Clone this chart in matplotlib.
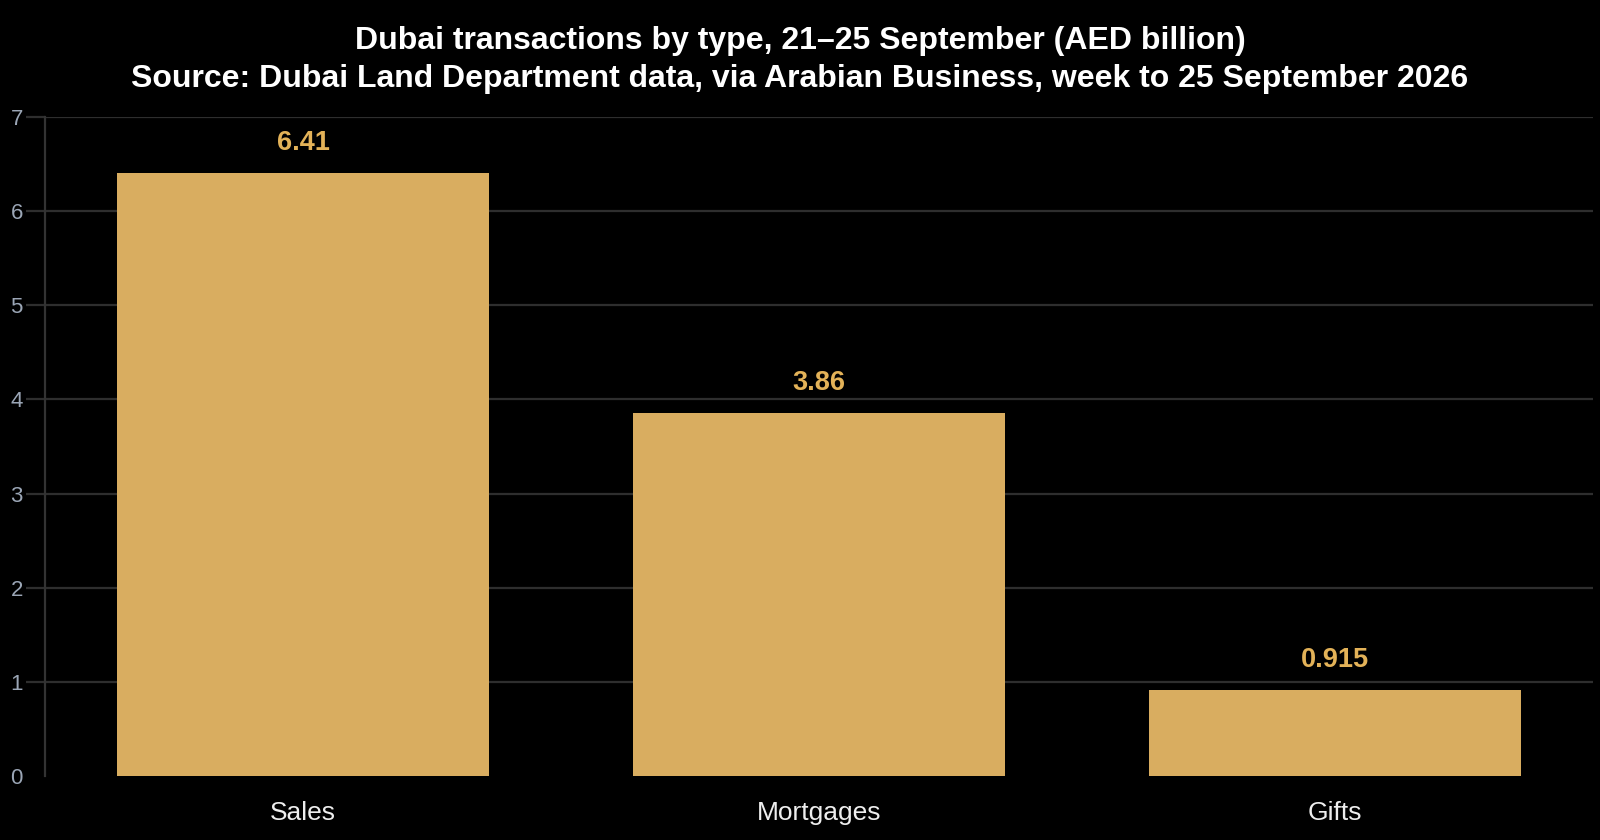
import matplotlib.pyplot as plt

categories = ["Sales", "Mortgages", "Gifts"]
values = [6.41, 3.86, 0.915]
value_labels = ["6.41", "3.86", "0.915"]
y_ticks = [0, 1, 2, 3, 4, 5, 6, 7]

plt.rcParams["font.family"] = ["Liberation Sans", "DejaVu Sans"]

fig = plt.figure(figsize=(16, 8.4), dpi=100, facecolor="black")
ax = fig.add_axes([45 / 1600, 1 - 776 / 840, 1548 / 1600, 659 / 840])
ax.set_facecolor("black")

x = list(range(len(categories)))
ax.bar(x, values, width=0.72, color="#d9ad60", zorder=2)
for xi, v, lab in zip(x, values, value_labels):
    ax.annotate(lab, (xi, v), xytext=(0, 12), textcoords="offset points",
                ha="center", va="bottom", color="#e3b258",
                fontsize=19.5, fontweight="bold")

ax.set_xlim(-0.5, len(categories) - 0.5)
ax.set_ylim(0, 7)
ax.set_yticks(y_ticks)
ax.set_xticks(x)
ax.set_xticklabels(categories)
ax.yaxis.grid(True, color="#2e2e2e", linewidth=1.6, zorder=0)
ax.tick_params(axis="y", colors="#9ba6b6", labelsize=16, length=14, width=1.6,
               color="#2e2e2e", pad=2)
ax.tick_params(axis="x", colors="#eeeeee", labelsize=19, length=0, pad=18)
# no baseline gridline / tick at zero
ax.yaxis.get_gridlines()[0].set_visible(False)
ax.yaxis.get_major_ticks()[0].tick1line.set_visible(False)
for side in ["top", "right", "bottom"]:
    ax.spines[side].set_visible(False)
ax.spines["left"].set_color("#333333")
ax.spines["left"].set_linewidth(1.6)

fig.text(0.5, 1 - 60 / 840,
         "Dubai transactions by type, 21\u201325 September (AED billion)\n"
         "Source: Dubai Land Department data, via Arabian Business, week to 25 September 2026",
         ha="center", va="center", color="white", fontsize=23, fontweight="bold",
         linespacing=1.36)

fig.savefig("out.png", dpi=100, facecolor="black")
